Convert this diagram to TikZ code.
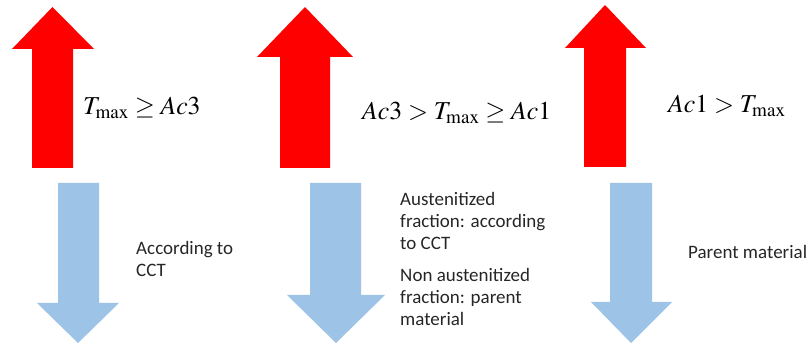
\documentclass[tikz,border=0pt]{standalone}
\usepackage{mathptmx}
\usepackage[no-math]{fontspec}
\setmainfont{Carlito}
\definecolor{rojoCal}{RGB}{255,0,0}
\definecolor{azulEnf}{RGB}{157,195,230}
\usetikzlibrary{positioning}
\tikzset{
  formula/.style={anchor=base west, inner sep=0pt, font=\fontsize{22}{26}\selectfont},
  nota/.style={anchor=west, inner sep=0pt, align=left, text=black!85,
               font=\fontsize{16.2}{18.8}\selectfont}
}
\begin{document}
\begin{tikzpicture}[x=0.03cm, y=-0.03cm]
  \useasboundingbox (0,0) rectangle (808,345);
  % Columna 1: Tmax >= Ac3
  \fill[rojoCal] (32,168) -- (32,49) -- (12,49) -- (52.5,7) -- (94,49) -- (73,49) -- (73,168) -- cycle;
  \node[formula] (cond1) at (83,115) {$T_{\max} \geq Ac3$};
  \fill[azulEnf] (58,183) -- (58,303) -- (37,303) -- (78,343) -- (119,303) -- (99,303) -- (99,183) -- cycle;
  \node[nota] (res1) at (136,259) {According to\\CCT};
  % Columna 2: Ac3 > Tmax >= Ac1
  \fill[rojoCal] (280,168) -- (280,57) -- (257,57) -- (305,7) -- (353,57) -- (330,57) -- (330,168) -- cycle;
  \node[formula] (cond2) at (362,120) {$Ac3 > T_{\max} \geq Ac1$};
  \fill[azulEnf] (310,183) -- (310,295) -- (287,295) -- (336,343) -- (385,295) -- (361,295) -- (361,183) -- cycle;
  \node[nota] (res2a) at (400,221) {Austenitized\\fraction: according\\to CCT};
  \node[nota] (res2b) at (400,297) {Non austenitized\\fraction: parent\\material};
  % Columna 3: Ac1 > Tmax
  \fill[rojoCal] (584,167) -- (584,48) -- (565,48) -- (605,5) -- (646,48) -- (626,48) -- (626,167) -- cycle;
  \node[formula] (cond3) at (668,113) {$Ac1 > T_{\max}$};
  \fill[azulEnf] (610,183) -- (610,302) -- (591,302) -- (631,343) -- (672,302) -- (652,302) -- (652,183) -- cycle;
  \node[nota] (res3) at (688,252) {Parent material};
\end{tikzpicture}
\end{document}
